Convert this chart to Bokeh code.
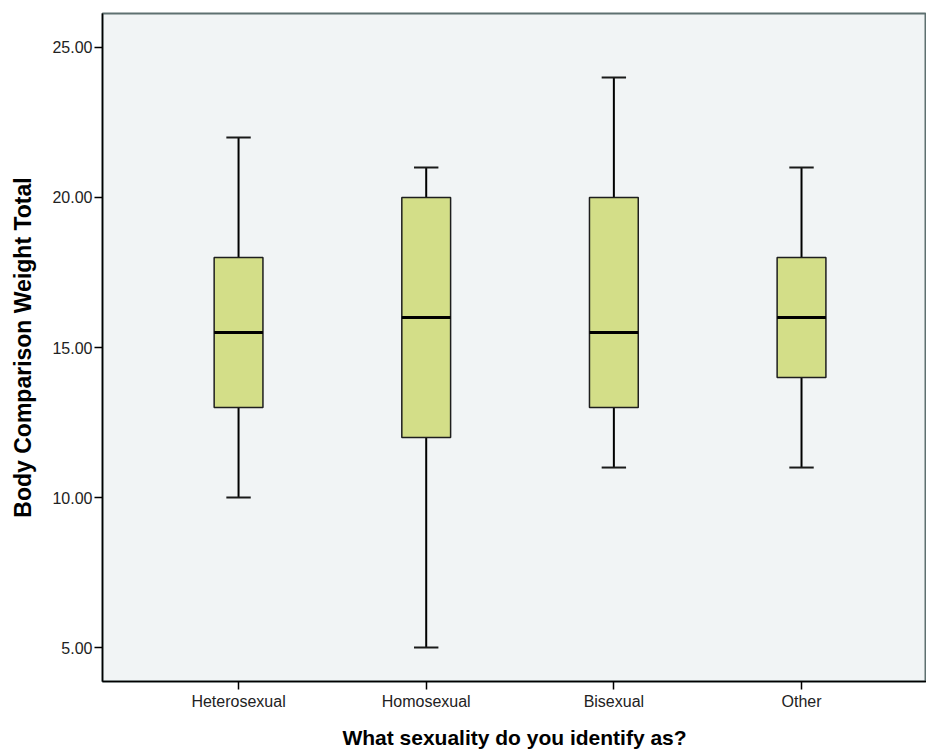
from bokeh.plotting import figure
from bokeh.models import Range1d, FixedTicker, NumeralTickFormatter, ColumnDataSource
from bokeh.embed import file_html
from bokeh.resources import INLINE

categories = ["Heterosexual", "Homosexual", "Bisexual", "Other"]
mins = [10, 5, 11, 11]
q1 = [13, 12, 13, 14]
medians = [15.5, 16, 15.5, 16]
q3 = [18, 20, 20, 18]
maxs = [22, 21, 24, 21]
y_ticks = [5, 10, 15, 20, 25]

xs = [i + 1 for i in range(len(categories))]
box_w = 0.26
cap_w = 0.13

src = ColumnDataSource(dict(
    x=xs, mins=mins, q1=q1, med=medians, q3=q3, maxs=maxs,
    bx0=[x - box_w / 2 for x in xs], bx1=[x + box_w / 2 for x in xs],
    cx0=[x - cap_w / 2 for x in xs], cx1=[x + cap_w / 2 for x in xs],
))

p = figure(width=926, height=751, output_backend="svg", toolbar_location=None,
           x_range=Range1d(0.275, 4.666), y_range=Range1d(3.87, 26.13),
           min_border_left=102, min_border_top=13, min_border_bottom=66, min_border_right=0)

p.background_fill_color = "#f1f4f5"
p.border_fill_color = "white"
p.outline_line_color = "#5e7070"
p.outline_line_width = 2
p.xgrid.visible = False
p.ygrid.visible = False

# whiskers
p.segment(x0="x", y0="q3", x1="x", y1="maxs", source=src, line_color="black", line_width=2)
p.segment(x0="x", y0="mins", x1="x", y1="q1", source=src, line_color="black", line_width=2)
p.segment(x0="cx0", y0="maxs", x1="cx1", y1="maxs", source=src, line_color="#1a1a1a", line_width=2)
p.segment(x0="cx0", y0="mins", x1="cx1", y1="mins", source=src, line_color="#1a1a1a", line_width=2)
# boxes
p.vbar(x="x", width=box_w, bottom="q1", top="q3", source=src,
       fill_color="#d3de88", line_color="#1e1e1e", line_width=1.5)
# medians
p.segment(x0="bx0", y0="med", x1="bx1", y1="med", source=src, line_color="black", line_width=3)

font = "Liberation Sans"
for ax in (p.xaxis[0], p.yaxis[0]):
    ax.axis_line_color = "black"
    ax.axis_line_width = 1.5
    ax.major_tick_line_color = "black"
    ax.major_tick_line_width = 1.5
    ax.major_tick_out = 8
    ax.major_tick_in = 0
    ax.minor_tick_line_color = None
    ax.major_label_text_font = font
    ax.major_label_text_font_size = "16px"
    ax.major_label_text_color = "#222222"
    ax.axis_label_text_font = font
    ax.axis_label_text_font_style = "bold"
    ax.axis_label_text_color = "black"

p.xaxis.ticker = FixedTicker(ticks=xs)
p.xaxis.major_label_overrides = {x: c for x, c in zip(xs, categories)}
p.xaxis.major_label_standoff = 3
p.xaxis.axis_label = "What sexuality do you identify as?"
p.xaxis.axis_label_text_font_size = "21px"
p.xaxis.axis_label_standoff = 13

p.yaxis.ticker = FixedTicker(ticks=y_ticks)
p.yaxis.formatter = NumeralTickFormatter(format="0.00")
p.yaxis.major_label_standoff = 2
p.yaxis.axis_label = "Body Comparison Weight Total"
p.yaxis.axis_label_text_font_size = "23px"
p.yaxis.axis_label_standoff = 13

open("out.html", "w").write(file_html(p, INLINE))
